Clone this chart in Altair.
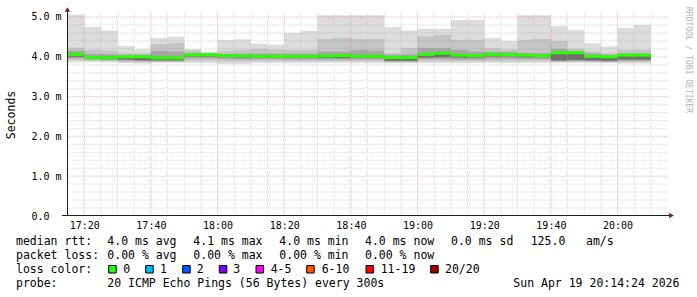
import altair as alt
import pandas as pd

# ---------------- data (ms) ----------------
bar_start = ["17:15","17:20","17:25","17:30","17:35","17:40","17:45","17:50","17:55",
             "18:00","18:05","18:10","18:15","18:20","18:25","18:30","18:35","18:40",
             "18:45","18:50","18:55","19:00","19:05","19:10","19:15","19:20","19:25",
             "19:30","19:35","19:40","19:45","19:50","19:55","20:00","20:05"]
rtt_max = [5.06,4.75,4.66,4.27,4.19,4.47,4.50,4.19,4.12,4.42,4.44,4.33,4.30,4.60,4.65,
           5.04,5.04,5.04,5.04,4.75,4.66,4.70,4.70,4.92,4.93,4.47,4.40,5.04,5.04,4.77,
           4.67,4.34,4.26,4.72,4.80]
rtt_hi2 = [4.23,4.17,4.15,4.09,4.09,4.32,4.34,4.16,4.10,4.15,4.17,4.20,4.18,4.17,4.17,
           4.45,4.47,4.45,4.45,4.09,4.22,4.51,4.55,4.43,4.43,4.22,4.18,4.43,4.45,4.40,
           4.20,4.13,4.09,4.17,4.17]
rtt_hi3 = [4.15,4.07,4.07,4.05,4.05,4.15,4.13,4.10,4.08,4.07,4.08,4.08,4.08,4.08,4.08,
           4.13,4.13,4.17,4.15,4.05,4.06,4.22,4.22,4.17,4.13,4.12,4.12,4.09,4.09,4.20,
           4.15,4.08,4.05,4.08,4.08]
rtt_med = [4.06,3.98,3.98,4.00,4.00,3.97,3.97,4.05,4.05,4.03,4.02,4.01,4.01,4.01,4.01,
           4.02,4.03,4.01,4.01,3.98,3.98,4.06,4.09,4.04,4.03,4.06,4.05,4.04,4.03,4.10,
           4.10,4.01,4.00,4.04,4.04]
rtt_dlo = [4.00,3.95,3.94,3.93,3.91,3.91,3.91,4.01,4.01,3.99,3.98,3.98,3.98,3.97,3.97,
           3.97,3.97,3.97,3.97,3.90,3.90,3.98,3.99,3.98,3.98,4.01,4.01,3.99,3.99,3.91,
           3.92,3.91,3.90,3.93,3.93]
rtt_lo3 = [3.96,3.93,3.92,3.90,3.89,3.89,3.89,3.96,3.96,3.94,3.93,3.94,3.94,3.93,3.93,
           3.93,3.93,3.93,3.93,3.88,3.88,3.94,3.94,3.93,3.93,3.95,3.95,3.94,3.94,3.89,
           3.89,3.89,3.88,3.90,3.90]
rtt_lo2 = [3.92,3.90,3.89,3.87,3.86,3.87,3.87,3.90,3.90,3.88,3.88,3.89,3.89,3.89,3.89,
           3.89,3.89,3.89,3.89,3.86,3.86,3.89,3.89,3.89,3.89,3.89,3.89,3.89,3.89,3.87,
           3.87,3.87,3.86,3.87,3.87]
rtt_min = [3.86,3.87,3.86,3.84,3.83,3.85,3.85,3.84,3.84,3.82,3.82,3.84,3.84,3.84,3.84,
           3.85,3.85,3.84,3.84,3.84,3.84,3.84,3.84,3.84,3.84,3.84,3.84,3.84,3.84,3.85,
           3.85,3.84,3.84,3.83,3.83]

x_ticks = [20, 40, 60, 80, 100, 120, 140, 160, 180]          # minutes after 17:00
x_minor = [15, 25, 30, 35, 45, 50, 55, 65, 70, 75, 85, 90, 95, 105, 110, 115,
           125, 130, 135, 145, 150, 155, 165, 170, 175, 185, 190]
y_ticks = [0, 1, 2, 3, 4, 5]
y_minor = [0.2, 0.4, 0.6, 0.8, 1.2, 1.4, 1.6, 1.8, 2.2, 2.4, 2.6, 2.8, 3.2, 3.4,
           3.6, 3.8, 4.2, 4.4, 4.6, 4.8]

loss_labels = ["0", "1", "2", "3", "4-5", "6-10", "11-19", "20/20"]
loss_colors = ["#26ff00", "#00b8ff", "#0059ff", "#7e00ff", "#ff00ff", "#ff5500", "#ff0000", "#a00000"]

# ---------------- layout ----------------
PADL, PADT, W, H = 67, 13, 600, 203
MONO = "DejaVu Sans Mono"


def to_min(s):
    h, m = s.split(":")
    return (int(h) - 17) * 60 + int(m)


df = pd.DataFrame({
    "t0": [to_min(s) for s in bar_start],
    "mx": rtt_max, "hi2": rtt_hi2, "hi3": rtt_hi3, "med": rtt_med,
    "dlo": rtt_dlo, "lo3": rtt_lo3, "lo2": rtt_lo2, "mn": rtt_min,
})
df["t1"] = df["t0"] + 5

xs = alt.Scale(domain=[14.83, 194.83], nice=False, zero=False)
ys = alt.Scale(domain=[0, 5.1], nice=False, zero=True)

xaxis = alt.Axis(values=x_ticks, grid=False, domain=False, ticks=False,
                 labelExpr="format(17 + floor(datum.value / 60), '02d') + ':' + format(datum.value % 60, '02d')",
                 labelFont=MONO, labelFontSize=10, labelColor="#000000", labelPadding=4,
                 labelBaseline="top", title=None)
yaxis = alt.Axis(values=y_ticks, grid=False, domain=False, ticks=False,
                 labelExpr="datum.value == 0 ? '0.0' : format(datum.value, '.1f') + ' m'",
                 labelFont=MONO, labelFontSize=10, labelColor="#000000", labelAlign="left",
                 labelBaseline="middle", labelPadding=36,
                 title="Seconds", titleX=-56, titleY=H / 2, titleAngle=270, titleAlign="center",
                 titleBaseline="middle", titleFont=MONO, titleFontSize=11.5,
                 titleFontWeight="normal", titleColor="#000000")


def X(f):
    return alt.X(f, type="quantitative", scale=xs, axis=xaxis)


def Y(f):
    return alt.Y(f, type="quantitative", scale=ys, axis=yaxis)


base = alt.Chart(df)
layers = []
for lo, hi, col in [("mn", "mx", "#dcdcdc"), ("lo2", "hi2", "#c4c4c4"),
                    ("lo3", "hi3", "#a6a6a6"), ("dlo", "med", "#6e6e6e")]:
    layers.append(base.mark_rect(color=col).encode(x=X("t0"), x2="t1", y=Y(lo), y2=hi))

# grid (drawn over smoke like rrdtool)
gx_minor = alt.Chart(pd.DataFrame({"g": x_minor})).mark_rule(
    color="#8f8f8f", opacity=0.35, strokeDash=[1, 1], strokeWidth=1).encode(x=X("g"))
gx_major = alt.Chart(pd.DataFrame({"g": x_ticks})).mark_rule(
    color="#de4f4f", opacity=0.4, strokeDash=[1, 1], strokeWidth=1).encode(x=X("g"))
gy_minor = alt.Chart(pd.DataFrame({"g": y_minor})).mark_rule(
    color="#8f8f8f", opacity=0.35, strokeDash=[1, 1], strokeWidth=1).encode(y=Y("g"))
gy_major = alt.Chart(pd.DataFrame({"g": y_ticks[1:]})).mark_rule(
    color="#de4f4f", opacity=0.4, strokeDash=[1, 1], strokeWidth=1).encode(y=Y("g"))
layers += [gx_minor, gy_minor, gx_major, gy_major]

# median line
layers.append(base.mark_rule(color="#26ff00", strokeWidth=3).encode(x=X("t0"), x2="t1", y=Y("med")))

one = pd.DataFrame({"a": [0]})

# axis lines and arrows
layers.append(alt.Chart(one).mark_rule(color="#1f1f1f", strokeWidth=1).encode(
    x=alt.value(-5), x2=alt.value(W + 3), y=alt.value(H - 0.5)))
layers.append(alt.Chart(one).mark_rule(color="#1f1f1f", strokeWidth=1).encode(
    x=alt.value(0.5), y=alt.value(-3), y2=alt.value(H)))
layers.append(alt.Chart(one).mark_point(shape="triangle-right", filled=True, size=30,
                                         color="#801f1f", opacity=1).encode(
    x=alt.value(W + 4.5), y=alt.value(H - 0.5)))
layers.append(alt.Chart(one).mark_point(shape="triangle-up", filled=True, size=30,
                                         color="#801f1f", opacity=1).encode(
    x=alt.value(0.5), y=alt.value(-3.5)))


def txt(s, xa, ya, size=11.5, color="#000000", align="left", baseline="alphabetic", angle=0):
    return alt.Chart(one).mark_text(text=s.replace(" ", "\u00a0"), align=align, baseline=baseline,
                                     font=MONO, fontSize=size, color=color, angle=angle).encode(
        x=alt.value(xa - PADL), y=alt.value(ya - PADT))


# legend lines
L1, L2, L3, L4 = 245, 259, 273, 287
layers += [
    txt("median rtt:", 16, L1), txt("4.0 ms avg", 107.3, L1), txt("4.1 ms max", 193.3, L1),
    txt("4.0 ms min", 279.3, L1), txt("4.0 ms now", 365, L1), txt("0.0 ms sd", 451, L1),
    txt("125.0", 530.7, L1), txt("am/s", 586, L1),
    txt("packet loss:", 16, L2), txt("0.00 % avg", 107.3, L2), txt("0.00 % max", 193.3, L2),
    txt("0.00 % min", 279.3, L2), txt("0.00 % now", 365, L2),
    txt("loss color:", 16, L3),
    txt("probe:", 16, L4), txt("20 ICMP Echo Pings (56 Bytes) every 300s", 107.3, L4),
    txt("Sun Apr 19 20:14:24 2026", 513.3, L4),
    txt("RRDTOOL / TOBI OETIKER", 687.5, 60, size=8, color="#b4b4b4", align="center",
        baseline="middle", angle=90),
]

sq_left = [108.7, 145.7, 182.7, 219.3, 256.0, 306.7, 366.0, 430.7]
lab_left = [123.3, 160.0, 196.7, 233.3, 270.7, 321.7, 380.7, 445.0]
for lbl, col, sx, lx in zip(loss_labels, loss_colors, sq_left, lab_left):
    layers.append(alt.Chart(one).mark_rect(color=col, stroke="#000000", strokeWidth=1).encode(
        x=alt.value(sx - PADL), x2=alt.value(sx + 7.5 - PADL),
        y=alt.value(265.5 - PADT), y2=alt.value(273 - PADT)))
    layers.append(txt(lbl, lx, L3))

chart = alt.layer(*layers).properties(
    width=W, height=H,
    autosize=alt.AutoSizeParams(type="none"),
    padding={"left": PADL, "top": PADT, "right": 697 - PADL - W, "bottom": 297 - PADT - H},
    background="#ffffff",
).configure_view(stroke=None)

chart.save("out.html", embed_options={"renderer": "svg", "actions": False})
